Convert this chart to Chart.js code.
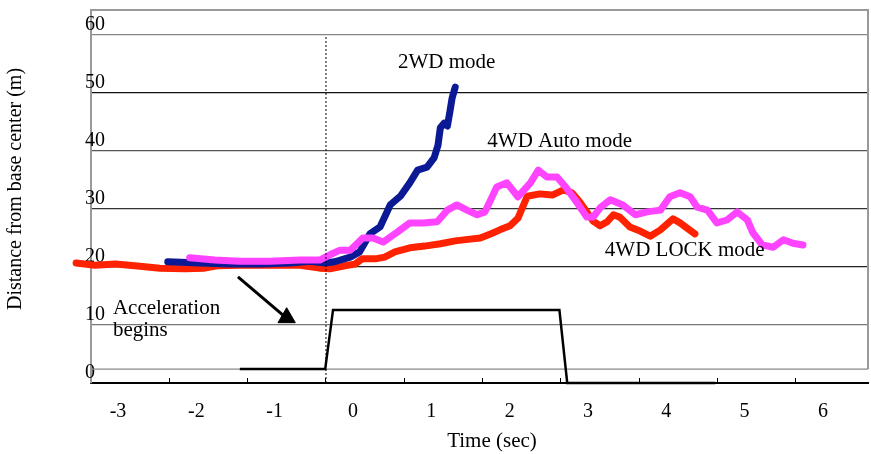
<!DOCTYPE html>
<html>
<head>
<meta charset="utf-8">
<script src="https://cdn.jsdelivr.net/npm/chart.js@4.4.0/dist/chart.umd.min.js"></script>
<style>
html,body{margin:0;padding:0;background:#fff;}
#wrap{width:871px;height:454px;position:relative;}
</style>
</head>
<body>
<div id="wrap"><canvas id="c" width="871" height="454"></canvas></div>
<script>
// ---------- data ----------
const xTickValues = [-3, -2, -1, 0, 1, 2, 3, 4, 5, 6];
const yTickValues = [0, 10, 20, 30, 40, 50, 60];

const lockTime = [-3.19,-2.95,-2.69,-2.44,-2.12,-1.80,-1.55,-1.39,-1.10,-0.72,-0.33,-0.08,0.05,0.24,0.37,0.46,0.63,0.75,0.88,1.07,1.26,1.46,1.65,1.84,1.97,2.10,2.22,2.35,2.45,2.57,2.73,2.89,3.03,3.14,3.24,3.33,3.41,3.50,3.59,3.67,3.75,3.88,4.01,4.14,4.27,4.43,4.52,4.61,4.71];
const lockDist = [20.7,20.3,20.5,20.2,19.8,19.7,19.8,20.2,20.3,20.3,20.3,19.8,19.7,20.2,20.5,21.4,21.4,21.7,22.6,23.3,23.6,24.0,24.5,24.8,25.0,25.7,26.4,27.1,28.4,32.2,32.6,32.4,33.3,32.8,31.2,29.5,27.9,27.1,27.8,29.0,28.6,26.9,26.2,25.3,26.4,28.3,27.6,26.7,25.7];

const autoTime = [-1.74,-1.42,-1.10,-0.72,-0.33,-0.08,0.05,0.18,0.31,0.47,0.60,0.73,0.91,1.07,1.24,1.42,1.55,1.67,1.80,1.93,2.03,2.18,2.31,2.45,2.61,2.71,2.82,2.95,3.07,3.21,3.33,3.41,3.50,3.63,3.79,3.95,4.10,4.27,4.39,4.52,4.65,4.74,4.87,4.99,5.12,5.25,5.38,5.45,5.57,5.71,5.84,5.96,6.09];
const autoDist = [21.6,21.2,21.0,21.0,21.2,21.2,22.1,22.9,22.9,25.0,25.0,24.3,26.0,27.6,27.6,27.8,29.8,30.7,29.8,29.0,29.5,33.8,34.5,32.1,34.5,36.7,35.5,35.5,33.6,31.0,28.6,28.6,30.2,31.6,30.7,29.0,29.5,29.8,32.1,32.8,32.1,30.3,29.8,27.6,28.1,29.5,28.1,25.9,23.8,23.4,24.7,24.1,23.8];

const twoWdTime = [-2.02,-1.61,-1.23,-0.84,-0.46,-0.20,-0.01,0.11,0.31,0.43,0.56,0.69,0.82,0.95,1.07,1.17,1.29,1.38,1.43,1.46,1.51,1.55,1.58,1.61,1.65];
const twoWdDist = [20.9,20.7,20.5,20.5,20.7,21.0,20.7,20.9,21.7,22.6,25.7,26.9,30.7,32.2,34.5,36.7,37.2,38.8,41.0,44.0,44.8,44.3,46.6,49.1,51.0];

const accelTime  = [-1.10,-0.01,0.09,2.98,3.08,4.97];
const accelLevel = [2.4,2.4,12.6,12.6,0,0];

const startTime = [0, 0];
const startDist = [0, 60];

const arrowTime = [-1.124, -0.549];
const arrowDist = [18.3, 11.7];
const arrowHeadTime = [-0.502];
const arrowHeadDist = [11.26];

const frameBottomValue = 2.4;

const labels = [
  {text: '2WD mode',       t: 0.92,  v: 55.3},
  {text: '4WD Auto mode',  t: 2.06,  v: 41.6},
  {text: '4WD LOCK mode',  t: 3.56,  v: 22.9},
  {text: 'Acceleration',   t: -2.72, v: 12.9},
  {text: 'begins',         t: -2.72, v: 9.1}
];
const xTitle = 'Time (sec)';
const yTitle = 'Distance from base center (m)';

// ---------- helpers ----------
const pts = (xs, ys) => xs.map((x, i) => ({x: x, y: ys[i]}));
const FONT = '"Liberation Serif", "DejaVu Serif", serif';

const gridColors = {0:'rgba(0,0,0,0)',10:'#777',20:'#222',30:'#333',40:'#555',50:'#111',60:'#888'};

const framePlugin = {
  id: 'frameAndText',
  beforeDatasetsDraw(chart) {
    const {ctx, chartArea: a, scales: {y}} = chart;
    const yb = y.getPixelForValue(frameBottomValue);
    ctx.save();
    ctx.strokeStyle = '#999';
    ctx.lineWidth = 2;
    ctx.beginPath();
    ctx.moveTo(a.left, a.top);
    ctx.lineTo(a.right, a.top);
    ctx.lineTo(a.right, yb);
    ctx.stroke();
    ctx.lineWidth = 1.3;
    ctx.strokeStyle = '#888';
    ctx.beginPath();
    ctx.moveTo(a.left, yb);
    ctx.lineTo(a.right, yb);
    ctx.stroke();
    ctx.restore();
  },
  afterDraw(chart) {
    const {ctx, scales: {x, y}} = chart;
    ctx.save();
    ctx.fillStyle = '#000';
    ctx.textBaseline = 'middle';
    ctx.textAlign = 'left';
    ctx.font = '21px ' + FONT;
    labels.forEach(l => ctx.fillText(l.text, x.getPixelForValue(l.t), y.getPixelForValue(l.v)));
    ctx.textAlign = 'center';
    ctx.fillText(xTitle, 492, 441);
    ctx.font = '20px ' + FONT;
    ctx.translate(16, 189);
    ctx.rotate(-Math.PI / 2);
    ctx.fillText(yTitle, 0, 0);
    ctx.restore();
  }
};

const lineDs = (label, data, color, width) => ({
  label, data, borderColor: color, backgroundColor: color, borderWidth: width,
  pointRadius: 0, tension: 0, fill: false, clip: false,
  borderCapStyle: 'round', borderJoinStyle: 'round'
});

new Chart(document.getElementById('c'), {
  type: 'line',
  data: {
    datasets: [
      Object.assign(lineDs('start', pts(startTime, startDist), '#000', 1), {borderDash: [2, 2], borderCapStyle: 'butt'}),
      Object.assign(lineDs('Acceleration', pts(accelTime, accelLevel), '#000', 2.5), {borderCapStyle: 'butt', borderJoinStyle: 'miter'}),
      lineDs('4WD Auto mode', pts(autoTime, autoDist), '#ff44ff', 7),
      lineDs('2WD mode', pts(twoWdTime, twoWdDist), '#0b1a94', 7),
      lineDs('4WD LOCK mode', pts(lockTime, lockDist), '#ff2200', 7),
      Object.assign(lineDs('arrow', pts(arrowTime, arrowDist), '#000', 3), {borderCapStyle: 'butt'}),
      {label: 'arrowHead', data: pts(arrowHeadTime, arrowHeadDist), showLine: false,
       pointStyle: 'triangle', pointRadius: 10, pointBackgroundColor: '#000', pointBorderColor: '#000',
       pointBorderWidth: 1, clip: false}
    ]
  },
  plugins: [framePlugin],
  options: {
    responsive: false,
    devicePixelRatio: 1,
    animation: false,
    events: [],
    layout: {autoPadding: false, padding: {left: 0, right: 3, top: 10, bottom: 0}},
    plugins: {legend: {display: false}, tooltip: {enabled: false}, title: {display: false}},
    scales: {
      x: {
        type: 'linear', position: 'bottom', min: -3, max: 6.92,
        afterBuildTicks: s => { s.ticks = xTickValues.map(v => ({value: v})); },
        afterFit: s => { s.height = 71; },
        grid: {drawOnChartArea: false, drawTicks: true, tickLength: -5, color: '#000', lineWidth: 1},
        border: {display: true, color: '#000', width: 2},
        ticks: {autoSkip: false, maxRotation: 0, padding: 22, labelOffset: 27, color: '#000',
                font: {family: FONT, size: 20}}
      },
      y: {
        type: 'linear', position: 'left', min: 0, max: 64.3,
        afterBuildTicks: s => { s.ticks = yTickValues.map(v => ({value: v})); },
        afterFit: s => { s.width = 91; },
        grid: {drawTicks: false, color: c => gridColors[c.tick ? c.tick.value : 0] || '#444', lineWidth: 1.3},
        border: {display: true, color: '#999', width: 2},
        ticks: {mirror: true, padding: -6, labelOffset: -10, color: '#000',
                font: {family: FONT, size: 20}}
      }
    }
  }
});
</script>
</body>
</html>
